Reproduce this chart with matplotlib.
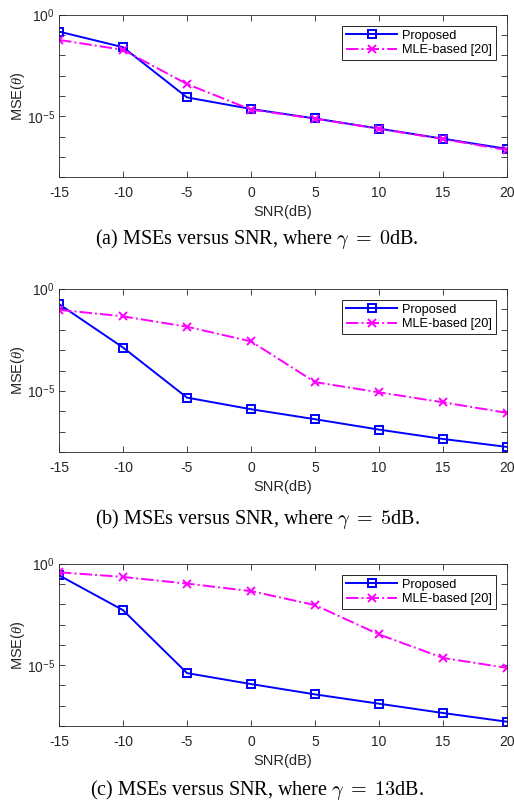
import matplotlib
matplotlib.use("Agg")
import matplotlib.pyplot as plt
import numpy as np

#
# Data
#

snr = [-15, -10, -5, 0, 5, 10, 15, 20]

prop_a = [10**-0.82, 10**-1.59, 10**-4.07, 10**-4.64, 10**-5.11, 10**-5.61, 10**-6.11, 10**-6.61]
mle_a = [10**-1.23, 10**-1.72, 10**-3.41, 10**-4.67, 10**-5.12, 10**-5.62, 10**-6.13, 10**-6.67]

prop_b = [10**-0.74, 10**-2.87, 10**-5.33, 10**-5.90, 10**-6.39, 10**-6.90, 10**-7.36, 10**-7.75]
mle_b = [10**-1.02, 10**-1.34, 10**-1.85, 10**-2.57, 10**-4.57, 10**-5.07, 10**-5.56, 10**-6.08]

prop_c = [10**-0.56, 10**-2.28, 10**-5.39, 10**-5.93, 10**-6.44, 10**-6.90, 10**-7.36, 10**-7.79]
mle_c = [10**-0.41, 10**-0.64, 10**-0.97, 10**-1.34, 10**-2.03, 10**-3.48, 10**-4.64, 10**-5.13]

captions = ["(a) MSEs versus SNR, where $\\gamma\\;=\\;0$dB.",
            "(b) MSEs versus SNR, where $\\gamma\\;=\\;5$dB.",
            "(c) MSEs versus SNR, where $\\gamma\\;=\\;13$dB."]

#
# Settings
#

plt.rcParams['font.family'] = ['Liberation Sans', 'DejaVu Sans']
plt.rcParams['mathtext.fontset'] = 'custom'
plt.rcParams['mathtext.rm'] = 'Liberation Sans'
plt.rcParams['mathtext.it'] = 'Liberation Serif:italic'

axcol = "#262626"
fig = plt.figure(figsize=(5.14, 8.02), dpi=100, facecolor="white")

# axes boxes [left, bottom, width, height] in figure fractions
boxes = [[0.1148, 0.7793, 0.8716, 0.2020],
         [0.1148, 0.4364, 0.8716, 0.2032],
         [0.1148, 0.0948, 0.8716, 0.2020]]
caption_y = [239, 519, 790]          # pixel rows of captions

series = [(prop_a, mle_a), (prop_b, mle_b), (prop_c, mle_c)]

for k in range(3):
    ax = fig.add_axes(boxes[k])
    p, m = series[k]
    ax.semilogy(snr, p, color="#0000FF", linestyle="-", linewidth=1.4, marker="s",
                markersize=6, markerfacecolor="none", markeredgewidth=1.4, label="Proposed")
    ax.semilogy(snr, m, color="#FF00FF", linestyle="-.", linewidth=1.4, marker="x",
                markersize=5.5, markeredgewidth=1.4, label="MLE-based [20]")

    ax.set_xlim(-15, 20)
    ax.set_ylim(1e-8, 1)
    ax.set_xticks(snr)
    ax.set_xticklabels([str(i) for i in snr])
    ax.set_yticks([10.0**e for e in range(-8, 1)])
    ax.set_yticklabels(["$10^{" + str(e) + "}$" if e in (0, -5) else "" for e in range(-8, 1)])
    ax.yaxis.set_minor_locator(matplotlib.ticker.NullLocator())

    ax.tick_params(which="both", direction="in", top=True, right=True, length=4,
                   width=0.6, color=axcol, labelcolor=axcol, labelsize=10)
    ax.tick_params(axis="x", pad=6.5)
    ax.tick_params(axis="y", pad=3)
    [ax.spines[i].set_color(axcol) for i in ax.spines]
    [ax.spines[i].set_linewidth(0.6) for i in ax.spines]

    ax.set_xlabel("SNR(dB)", color=axcol, fontsize=10.5, labelpad=3.5)
    ax.set_ylabel("MSE($\\theta$)", color=axcol, fontsize=10.5, labelpad=0)

    leg = ax.legend(loc="upper right", fontsize=9.2, handlelength=4.0, fancybox=False,
                    framealpha=1, edgecolor=axcol, borderaxespad=0.85,
                    borderpad=0.3, labelspacing=0.2, handletextpad=0.4)
    leg.get_frame().set_linewidth(0.7)

    fig.text(0.5, 1 - caption_y[k] / 802, captions[k], ha="center", va="center",
             fontsize=14.5, family="Liberation Serif", color="black",
             math_fontfamily="cm")

plt.savefig("out.png", dpi=100)
